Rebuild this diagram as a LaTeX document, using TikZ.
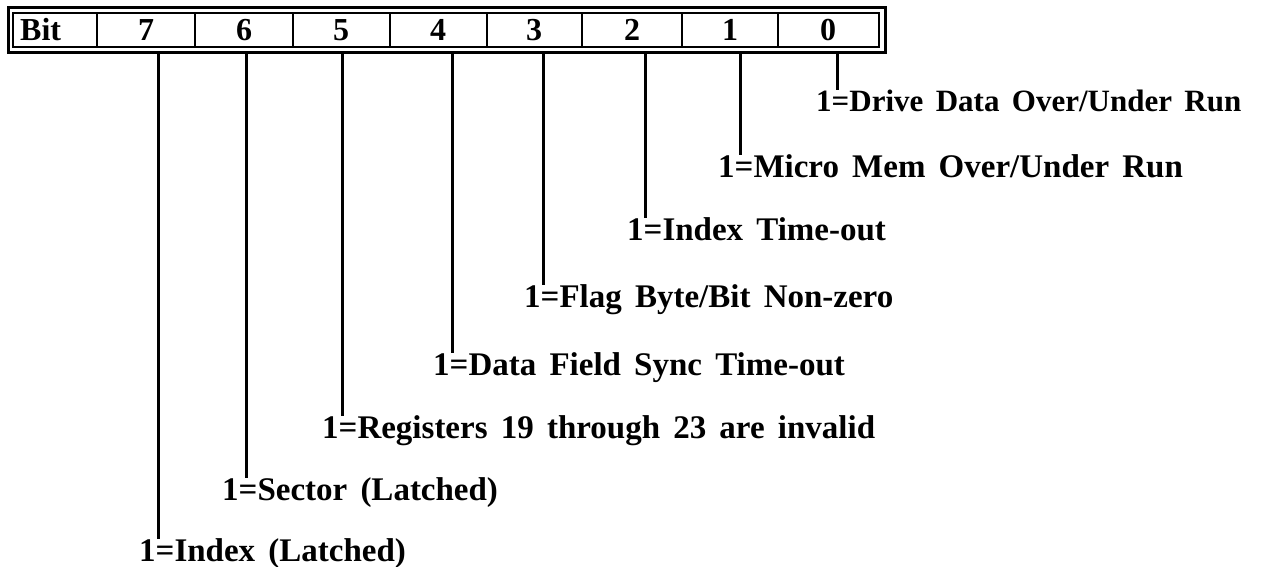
\documentclass[tikz,border=0pt]{standalone}
\usepackage{fontspec}
\setmainfont{Liberation Serif}[WordSpace=1.6]
\begin{document}
\begin{tikzpicture}[x=1pt,y=-1pt,
  regtext/.style={font=\fontsize{32}{32}\selectfont\bfseries, inner sep=0pt, anchor=base},
  bitlabel/.style={font=\fontsize{33}{33}\selectfont\bfseries, inner sep=0pt,
    anchor=base west, text height=22pt, text depth=7pt},
  leader/.style={line width=3pt},
  frameout/.style={line width=3pt},
  framein/.style={line width=2pt},
  divider/.style={line width=1.8pt}]
\useasboundingbox (0,0) rectangle (1277,567);

% register frame: double outline with cell dividers
\draw[frameout] (8,8) rectangle (885,53);
\draw[framein] (13,13) rectangle (879,47);
\foreach \x in {97,195,293,390,487,582,682,778}
  \draw[divider] (\x,13) -- (\x,47);

% header row
\node[regtext, anchor=base west] (cbit) at (20,41) {Bit};
\node[regtext] (c7) at (146,41) {7};
\node[regtext] (c6) at (244,41) {6};
\node[regtext] (c5) at (341,41) {5};
\node[regtext] (c4) at (438,41) {4};
\node[regtext] (c3) at (534,41) {3};
\node[regtext] (c2) at (632,41) {2};
\node[regtext] (c1) at (730,41) {1};
\node[regtext] (c0) at (828,41) {0};

% bit descriptions
\node[bitlabel, font=\fontsize{31}{31}\selectfont\bfseries] (l0) at (816,112) {1=Drive Data Over/Under Run};
\node[bitlabel] (l1) at (718,177) {1=Micro Mem Over/Under Run};
\node[bitlabel] (l2) at (627,240) {1=Index Time-out};
\node[bitlabel] (l3) at (524,307) {1=Flag Byte/Bit Non-zero};
\node[bitlabel] (l4) at (433,375) {1=Data Field Sync Time-out};
\node[bitlabel] (l5) at (322,438) {1=Registers 19 through 23 are invalid};
\node[bitlabel] (l6) at (222,500) {1=Sector (Latched)};
\node[bitlabel] (l7) at (139,561) {1=Index (Latched)};

% leader lines from the frame down to each description
\coordinate (t7) at (158,53);
\coordinate (t6) at (246,53);
\coordinate (t5) at (342,53);
\coordinate (t4) at (452,53);
\coordinate (t3) at (543,53);
\coordinate (t2) at (645,53);
\coordinate (t1) at (740,53);
\coordinate (t0) at (837,53);
\foreach \i in {0,...,7}
  \draw[leader] (t\i) -- (t\i |- l\i.north);
\end{tikzpicture}
\end{document}
